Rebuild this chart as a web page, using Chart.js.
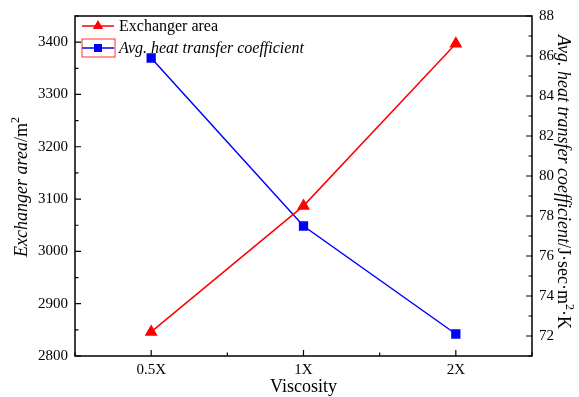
<!DOCTYPE html>
<html>
<head>
<meta charset="utf-8">
<script src="https://cdn.jsdelivr.net/npm/chart.js@4.4.0/dist/chart.umd.min.js"></script>
<style>
  html, body { margin: 0; padding: 0; background: #fff; }
  #wrap { width: 579px; height: 397px; }
</style>
</head>
<body>
<div id="wrap"><canvas id="chart"></canvas></div>
<script>
// Data
const categories = ['0.5X', '1X', '2X'];
const exchangerArea = [2846, 3087, 3397];       // m^2, left axis
const heatTransferCoeff = [85.9, 77.5, 72.1];   // right axis

const FONT = '"Liberation Serif", "Times New Roman", serif';

// category index -> x position 1, 2, 3
const toPoints = (vals) => vals.map((v, i) => ({ x: i + 1, y: v }));

/**
 * Draws frame, inward ticks, legend and the mixed-style axis titles
 */
const decorPlugin = {
    id: 'decor',
    afterDraw(chart) {
        const ctx = chart.ctx;
        const area = chart.chartArea;
        const sx = chart.scales.x;
        const sl = chart.scales.yL;
        const sr = chart.scales.yR;

        ctx.save();
        ctx.strokeStyle = '#000';
        ctx.lineWidth = 1.5;
        ctx.strokeRect(area.left, area.top, area.right - area.left, area.bottom - area.top);

        // inward tick marks
        ctx.lineWidth = 1.2;
        ctx.beginPath();
        sx.ticks.forEach(t => {
            const px = sx.getPixelForValue(t.value);
            const len = Number.isInteger(t.value) ? 6 : 3.5;
            ctx.moveTo(px, area.bottom);
            ctx.lineTo(px, area.bottom - len);
        });
        sl.ticks.forEach(t => {
            const py = sl.getPixelForValue(t.value);
            const len = t.value % 100 === 0 ? 6 : 3.5;
            ctx.moveTo(area.left, py);
            ctx.lineTo(area.left + len, py);
        });
        sr.ticks.forEach(t => {
            const py = sr.getPixelForValue(t.value);
            const len = t.value % 2 === 0 ? 6 : 3.5;
            ctx.moveTo(area.right, py);
            ctx.lineTo(area.right - len, py);
        });
        ctx.stroke();

        // legend
        const lx = area.left + 7;
        const rows = [
            { y: area.top + 10, color: '#ff0000', shape: 'tri', text: 'Exchanger area', italic: false },
            { y: area.top + 32, color: '#0000ff', shape: 'sq', text: 'Avg. heat transfer coefficient', italic: true }
        ];
        rows.forEach(r => {
            ctx.strokeStyle = r.color;
            ctx.fillStyle = r.color;
            ctx.lineWidth = 1.5;
            ctx.beginPath();
            ctx.moveTo(lx, r.y);
            ctx.lineTo(lx + 32, r.y);
            ctx.stroke();
            const cx = lx + 16;
            ctx.beginPath();
            if (r.shape === 'tri') {
                ctx.moveTo(cx, r.y - 6);
                ctx.lineTo(cx + 5.2, r.y + 3);
                ctx.lineTo(cx - 5.2, r.y + 3);
                ctx.closePath();
            } else {
                ctx.rect(cx - 4, r.y - 4, 8, 8);
            }
            ctx.fill();
            ctx.fillStyle = '#000';
            ctx.font = (r.italic ? 'italic ' : '') + '16px ' + FONT;
            ctx.textBaseline = 'middle';
            ctx.textAlign = 'left';
            ctx.fillText(r.text, lx + 37, r.y + 1);
        });
        // red selection box around the second legend symbol
        ctx.strokeStyle = '#ff3030';
        ctx.lineWidth = 1;
        ctx.strokeRect(lx, rows[1].y - 9, 33, 18);

        // x title
        ctx.fillStyle = '#000';
        ctx.font = '18px ' + FONT;
        ctx.textAlign = 'center';
        ctx.textBaseline = 'alphabetic';
        ctx.fillText('Viscosity', (area.left + area.right) / 2, 392);

        // left title (rotated -90)
        drawRich(ctx, 22, 187, -Math.PI / 2, [
            { t: 'Exchanger area', f: 'italic 18px ' + FONT },
            { t: '/m', f: '18px ' + FONT },
            { t: '2', f: '12px ' + FONT, sup: true }
        ]);
        // right title (rotated +90)
        drawRich(ctx, 563, 182, Math.PI / 2, [
            { t: 'Avg. heat transfer coefficient', f: 'italic 18px ' + FONT },
            { t: '/J\u00b7sec\u00b7m', f: '18px ' + FONT },
            { t: '2', f: '12px ' + FONT, sup: true },
            { t: '\u00b7K', f: '18px ' + FONT }
        ]);
        ctx.restore();
    }
};

function drawRich(ctx, x, y, rot, parts) {
    ctx.save();
    ctx.translate(x, y);
    ctx.rotate(rot);
    let total = 0;
    parts.forEach(p => { ctx.font = p.f; total += ctx.measureText(p.t).width; });
    let cur = -total / 2;
    ctx.textBaseline = 'middle';
    ctx.textAlign = 'left';
    ctx.fillStyle = '#000';
    parts.forEach(p => {
        ctx.font = p.f;
        ctx.fillText(p.t, cur, p.sup ? -6 : 0);
        cur += ctx.measureText(p.t).width;
    });
    ctx.restore();
}

new Chart(document.getElementById('chart'), {
    type: 'line',
    data: {
        datasets: [
            {
                label: 'Exchanger area',
                data: toPoints(exchangerArea),
                yAxisID: 'yL',
                borderColor: '#ff0000',
                backgroundColor: '#ff0000',
                borderWidth: 1.5,
                pointStyle: 'triangle',
                pointRadius: 6,
                pointHoverRadius: 6,
                tension: 0
            },
            {
                label: 'Avg. heat transfer coefficient',
                data: toPoints(heatTransferCoeff),
                yAxisID: 'yR',
                borderColor: '#0000ff',
                backgroundColor: '#0000ff',
                borderWidth: 1.5,
                pointStyle: 'rect',
                pointRadius: 5.5,
                pointHoverRadius: 5.5,
                tension: 0
            }
        ]
    },
    options: {
        responsive: true,
        maintainAspectRatio: false,
        animation: false,
        layout: { padding: { top: 16 } },
        plugins: {
            legend: { display: false },
            tooltip: { enabled: false }
        },
        scales: {
            x: {
                type: 'linear',
                min: 0.5,
                max: 3.5,
                afterFit: (s) => { s.height = 41; },
                grid: { display: false, drawTicks: false },
                border: { display: false },
                ticks: {
                    stepSize: 0.5,
                    padding: 5,
                    color: '#000',
                    font: { family: FONT, size: 15 },
                    autoSkip: false,
                    maxRotation: 0,
                    callback: (v) => Number.isInteger(v) && v >= 1 && v <= categories.length ? categories[v - 1] : ''
                }
            },
            yL: {
                type: 'linear',
                position: 'left',
                min: 2800,
                max: 3450,
                afterFit: (s) => { s.width = 75; },
                grid: { display: false, drawTicks: false },
                border: { display: false },
                ticks: {
                    stepSize: 50,
                    padding: 7,
                    color: '#000',
                    font: { family: FONT, size: 15 },
                    autoSkip: false,
                    callback: (v) => v % 100 === 0 ? String(v) : ''
                }
            },
            yR: {
                type: 'linear',
                position: 'right',
                min: 71,
                max: 88,
                afterFit: (s) => { s.width = 47; },
                grid: { display: false, drawTicks: false },
                border: { display: false },
                ticks: {
                    stepSize: 1,
                    padding: 7,
                    color: '#000',
                    font: { family: FONT, size: 15 },
                    autoSkip: false,
                    callback: (v) => v % 2 === 0 ? String(v) : ''
                }
            }
        }
    },
    plugins: [decorPlugin]
});
</script>
</body>
</html>
